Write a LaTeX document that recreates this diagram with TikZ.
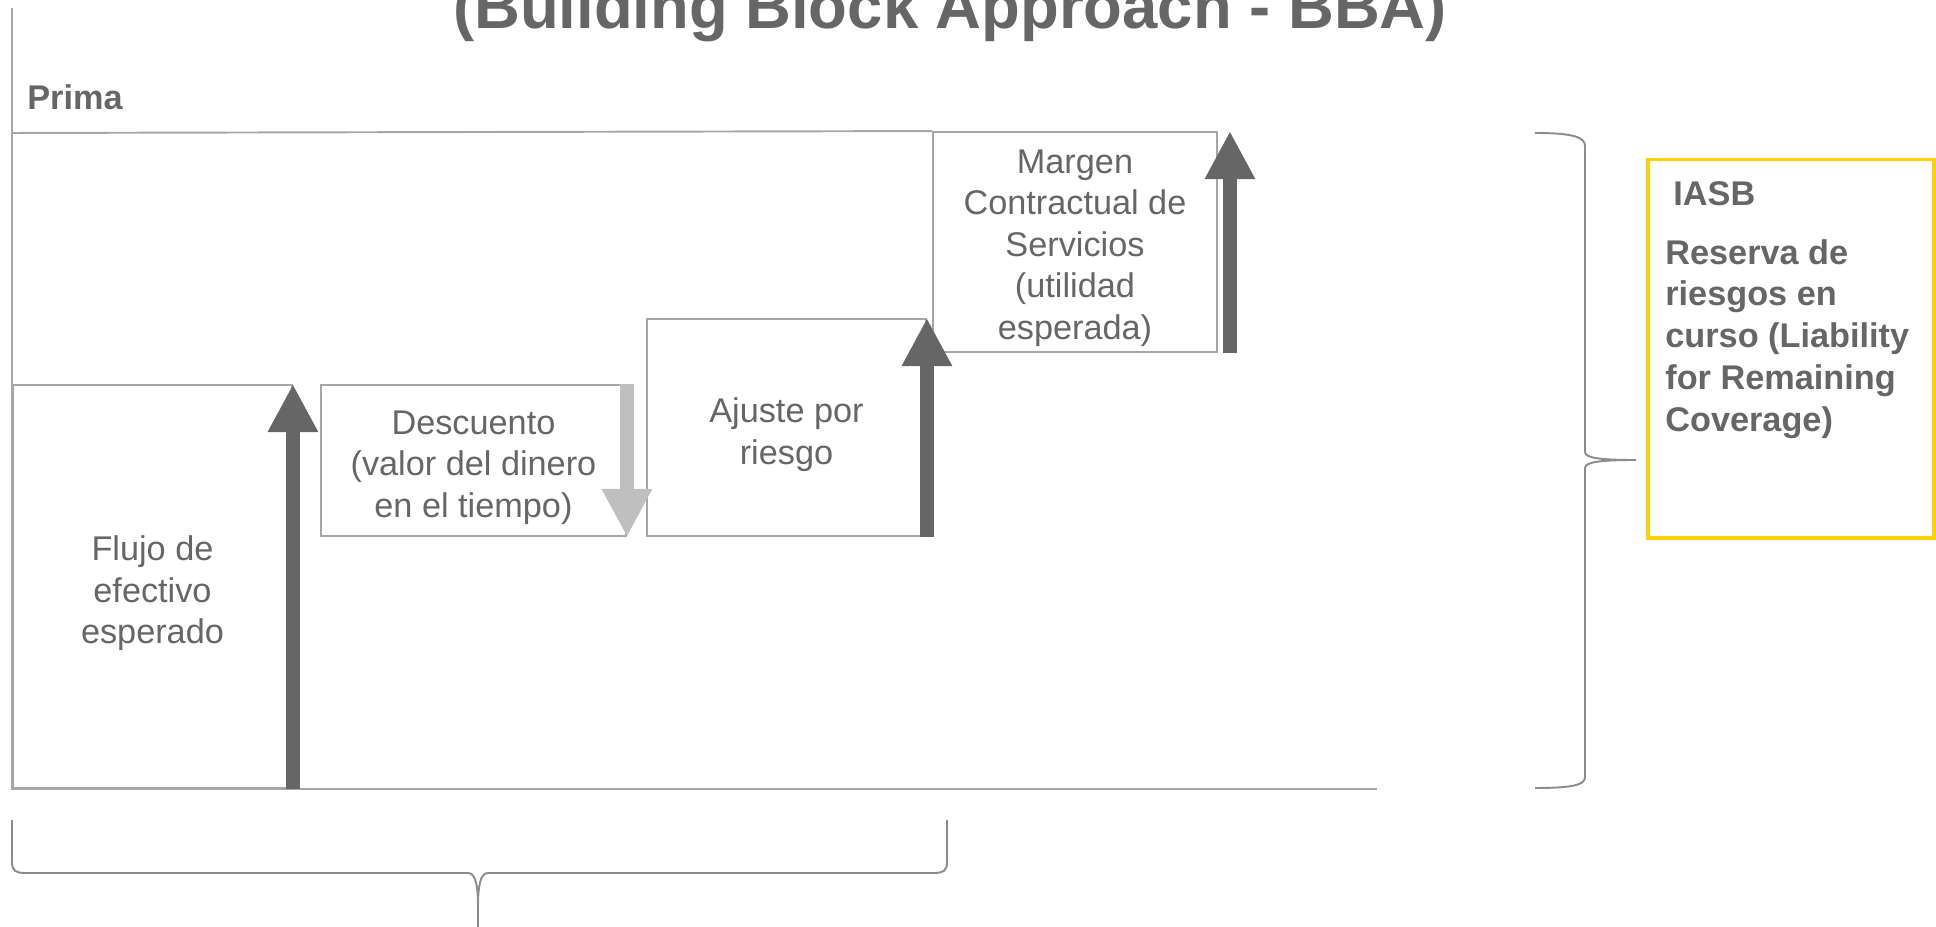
\documentclass[tikz,border=0pt]{standalone}
\usepackage{fontspec}
\setmainfont{Liberation Sans}
\usetikzlibrary{arrows.meta,positioning}
\definecolor{textogris}{RGB}{102,102,102}
\definecolor{lineagris}{RGB}{166,166,166}
\definecolor{llavegris}{RGB}{140,140,140}
\definecolor{flechaclara}{RGB}{191,191,191}
\definecolor{amarillo}{RGB}{255,210,0}

\tikzset{
	caja/.style={draw=lineagris,line width=1.1pt,inner sep=0pt,anchor=south west},
	textocaja/.style={align=center,text=textogris,inner sep=0pt,font=\fontsize{19.5}{23.6}\selectfont},
	etiqueta/.style={text=textogris,inner sep=0pt,font=\bfseries\fontsize{19.5}{23.8}\selectfont},
	flecha/.style={line width=0.28cm,-{Triangle[width=0.94cm,length=0.96cm]},textogris},
	llave/.style={draw=llavegris,line width=1.1pt}
}

\begin{document}
\begin{tikzpicture}
	\useasboundingbox (0,0) rectangle (38.72,18.54);
	\clip (0,0) rectangle (38.72,18.54);
	% titulo, cortado arriba
	\node[anchor=base,text=textogris,inner sep=0pt,font=\bfseries\fontsize{36.1}{40}\selectfont] (titulo) at (19.00,17.96) {(Building Block Approach - BBA)};
	% ejes
	\coordinate (arriba) at (0.24,18.38);
	\coordinate (origen) at (0.24,2.76);
	\coordinate (fin) at (27.54,2.76);
	\draw[lineagris,line width=1.1pt] (arriba) -- (origen) -- (fin);
	\node[etiqueta,anchor=base west] (prima) at (0.54,16.34) {Prima};
	% bloques
	\node[caja,minimum width=5.58cm,minimum height=8.06cm] (flujo) at (0.24,2.76) {};
	\node[caja,minimum width=6.10cm,minimum height=3.02cm] (descuento) at (6.40,7.80) {};
	\node[caja,minimum width=5.58cm,minimum height=4.34cm] (ajuste) at (12.92,7.80) {};
	\node[caja,minimum width=5.68cm,minimum height=4.40cm] (margen) at (18.64,11.48) {};
	\node[textocaja] (flujotxt) at ([yshift=-0.14cm]flujo.center) {Flujo de\\efectivo\\esperado};
	\node[textocaja] (descuentotxt) at ([yshift=-0.14cm]descuento.center) {Descuento\\(valor del dinero\\en el tiempo)};
	\node[textocaja] (ajustetxt) at ([yshift=-0.14cm]ajuste.center) {Ajuste por\\riesgo};
	\node[textocaja] (margentxt) at ([yshift=-0.12cm]margen.center) {Margen\\Contractual de\\Servicios\\(utilidad\\esperada)};
	\draw[lineagris,line width=1.1pt] (0.24,15.88) -- (margen.north west);
	% flechas
	\draw[flecha] (flujo.south east) -- (flujo.north east);
	\draw[flecha,flechaclara] (descuento.north east) -- (descuento.south east);
	\draw[flecha] (ajuste.south east) -- (ajuste.north east);
	\draw[flecha] ([xshift=0.24cm]margen.south east) -- ([xshift=0.24cm]margen.north east);
	% llaves
	\draw[llave] (30.70,15.88) .. controls (31.45,15.88) and (31.70,15.80) .. (31.70,15.62) -- (31.70,9.50)
		.. controls (31.70,9.38) and (32.00,9.34) .. (32.72,9.34)
		.. controls (32.00,9.34) and (31.70,9.30) .. (31.70,9.18) -- (31.70,3.00)
		.. controls (31.70,2.84) and (31.45,2.78) .. (30.70,2.78);
	\draw[llave] (0.24,2.14) -- (0.24,1.30) .. controls (0.24,1.12) and (0.32,1.08) .. (0.50,1.08) -- (9.36,1.08)
		.. controls (9.52,1.08) and (9.56,0.80) .. (9.56,0.40) -- (9.56,0) -- (9.56,0.40)
		.. controls (9.56,0.80) and (9.60,1.08) .. (9.76,1.08) -- (18.68,1.08)
		.. controls (18.86,1.08) and (18.94,1.12) .. (18.94,1.30) -- (18.94,2.14);
	% recuadro IASB
	\node[draw=amarillo,line width=2pt,minimum width=5.72cm,minimum height=7.56cm,anchor=north west] (iasb) at (32.92,15.38) {};
	\node[etiqueta,anchor=base west] (iasbtit) at (33.46,14.42) {IASB};
	\node[etiqueta,anchor=west,align=left] (reserva) at (33.30,11.76) {Reserva de\\riesgos en\\curso (Liability\\for Remaining\\Coverage)};
\end{tikzpicture}
\end{document}
